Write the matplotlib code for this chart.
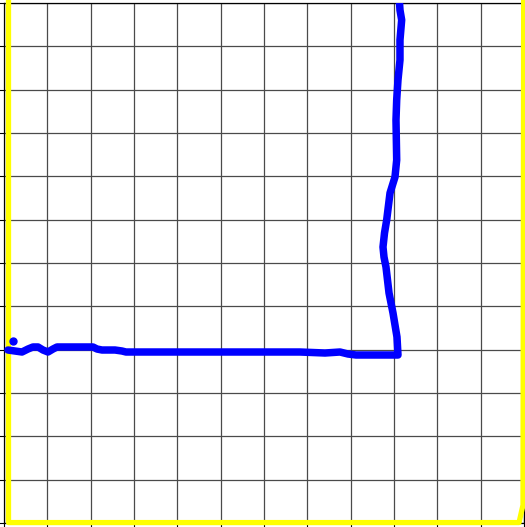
import numpy as np
import matplotlib
matplotlib.use("Agg")
import matplotlib.pyplot as plt

# traced path (blue) in grid units
path_x = [-5.908, -5.746, -5.585, -5.446, -5.331, -5.215, -5.100, -4.985, -4.869,
          -4.777, -4.477, -3.946, -3.854, -3.738, -3.438, -3.277, -3.185, -1.477,
          0.831, 1.408, 1.754, 1.938, 2.123, 3.092, 3.069, 2.977, 2.885, 2.815,
          2.769, 2.746, 2.781, 2.831, 2.908, 3.023, 3.062, 3.046, 3.062, 3.092,
          3.138, 3.138, 3.177, 3.138, 3.123]
path_y = [-2.008, -2.031, -2.054, -1.985, -1.938, -1.938, -2.008, -2.054, -1.985,
          -1.938, -1.938, -1.938, -1.985, -2.008, -2.008, -2.031, -2.054, -2.054,
          -2.054, -2.077, -2.054, -2.100, -2.123, -2.123, -1.708, -1.154, -0.692,
          -0.092, 0.138, 0.369, 0.692, 0.992, 1.615, 1.985, 2.377, 3.300, 3.762,
          4.223, 4.685, 5.146, 5.608, 5.838, 6.069]
stray_x = [-5.800]
stray_y = [-1.792]

# boundary trace (yellow)
edge_x = [-5.896, -5.896, 5.885, 5.977, 5.992]
edge_y = [6.10, -5.99, -5.99, -5.585, 6.10]

fig = plt.figure(figsize=(5.25, 5.27), dpi=100)
ax = fig.add_axes([4 / 525, 4 / 527, 520 / 525, 520 / 527])

ax.set_xlim(-6, 6)
ax.set_ylim(-6, 6)
ax.set_xticks(np.arange(-6, 7, 1))
ax.set_yticks(np.arange(-6, 7, 1))
ax.tick_params(labelbottom=False, labelleft=False, length=3.5, width=0.8)
ax.grid(True, color="#4a4a4a", linewidth=0.9)
ax.set_axisbelow(True)
for s in ax.spines.values():
    s.set_linewidth(0.9)

ax.plot(edge_x, edge_y, color="yellow", linewidth=3.8, clip_on=False,
        solid_capstyle="butt", zorder=3)
ax.plot(path_x, path_y, color="blue", linewidth=5.4, solid_capstyle="round",
        solid_joinstyle="round", zorder=4)
ax.plot(stray_x, stray_y, "o", color="blue", markersize=5, zorder=4)

fig.savefig("out.png", dpi=100)
